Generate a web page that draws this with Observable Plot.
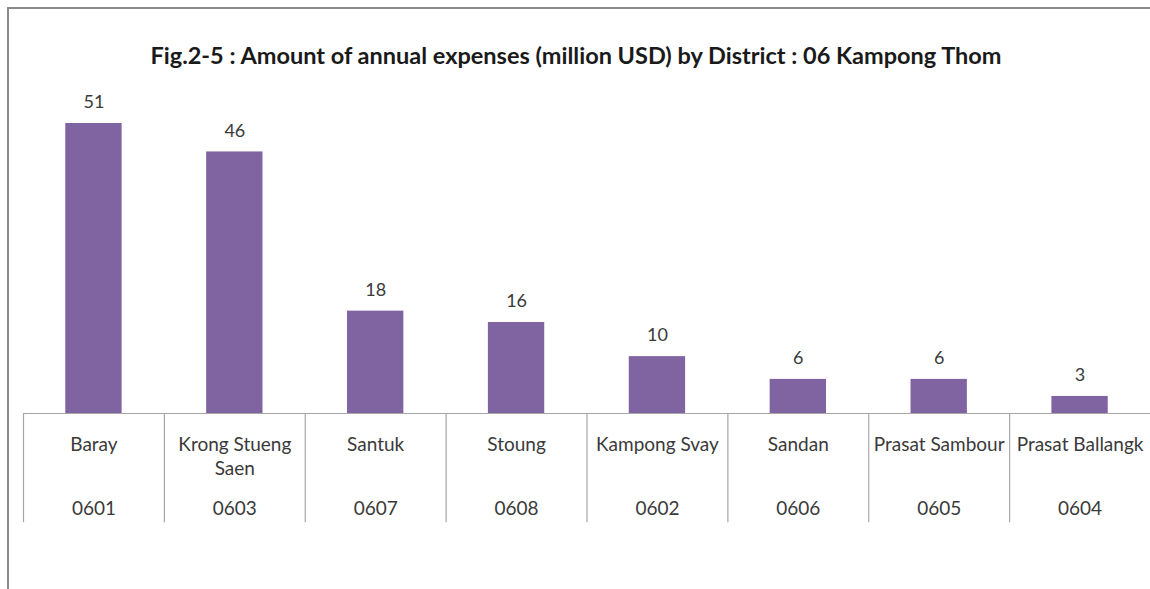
<!DOCTYPE html>
<html>
<head>
<meta charset="utf-8">
<script src="https://cdn.jsdelivr.net/npm/d3@7"></script>
<script src="https://cdn.jsdelivr.net/npm/@observablehq/plot@0.6"></script>
<style>
  html, body { margin: 0; padding: 0; background: #fff; overflow: hidden; }
  #frame { position: absolute; left: 7px; top: 7px; width: 1200px; height: 640px;
           border-left: 2px solid #8a8a8a; border-top: 2px solid #8a8a8a; }
  #chart { position: absolute; left: 0; top: 0; }
  svg text { font-family: Lato, "Open Sans", sans-serif; }
</style>
</head>
<body>
<div id="frame"></div>
<div id="chart"></div>
<script>
const title = "Fig.2-5 : Amount of annual expenses (million USD) by District : 06 Kampong Thom";
const districts = ["Baray", "Krong Stueng\nSaen", "Santuk", "Stoung", "Kampong Svay", "Sandan", "Prasat Sambour", "Prasat Ballangk"];
const codes = ["0601", "0603", "0607", "0608", "0602", "0606", "0605", "0604"];
const values = [51, 46, 18, 16, 10, 6, 6, 3];

const data = districts.map((d, i) => ({district: d, code: codes[i], value: values[i]}));

const W = 1150, H = 589, mL = 23, mR = 0, mT = 123, mB = 176;
const step = (W - mL - mR) / districts.length;
const tableDepth = -19.2; // table extends below baseline (in value units)

const plot = Plot.plot({
  width: W,
  height: H,
  marginLeft: mL,
  marginRight: mR,
  marginTop: mT,
  marginBottom: mB,
  style: {background: "transparent", overflow: "visible"},
  x: {domain: districts, paddingInner: 0.6, paddingOuter: 0.3, round: false, axis: null},
  y: {domain: [0, 51], axis: null},
  marks: [
    Plot.barY(data, {x: "district", y: "value", fill: "#8064A2"}),
    Plot.text(data, {x: "district", y: "value", text: d => String(d.value),
      dy: -21, fontSize: 18, fill: "#3a3a3a", lineAnchor: "middle"}),
    Plot.ruleY([0], {stroke: "#a6a6a6", strokeWidth: 1.2}),
    Plot.ruleX(data, {x: "district", y1: 0, y2: tableDepth, dx: -step / 2, stroke: "#a6a6a6", strokeWidth: 1.2}),
    Plot.text(data, {x: "district", y: 0, text: "district", dy: 20, lineAnchor: "top",
      fontSize: 19, fill: "#3a3a3a", lineHeight: 1.27}),
    Plot.text(data, {x: "district", y: 0, text: "code", dy: 95, lineAnchor: "middle",
      fontSize: 19, fill: "#3a3a3a"}),
    Plot.text([title], {frameAnchor: "top", dy: -76, dx: -11, text: d => d, fontSize: 23.5,
      fontWeight: "bold", fill: "#1a1a1a"})
  ]
});
document.getElementById("chart").appendChild(plot);
</script>
</body>
</html>
